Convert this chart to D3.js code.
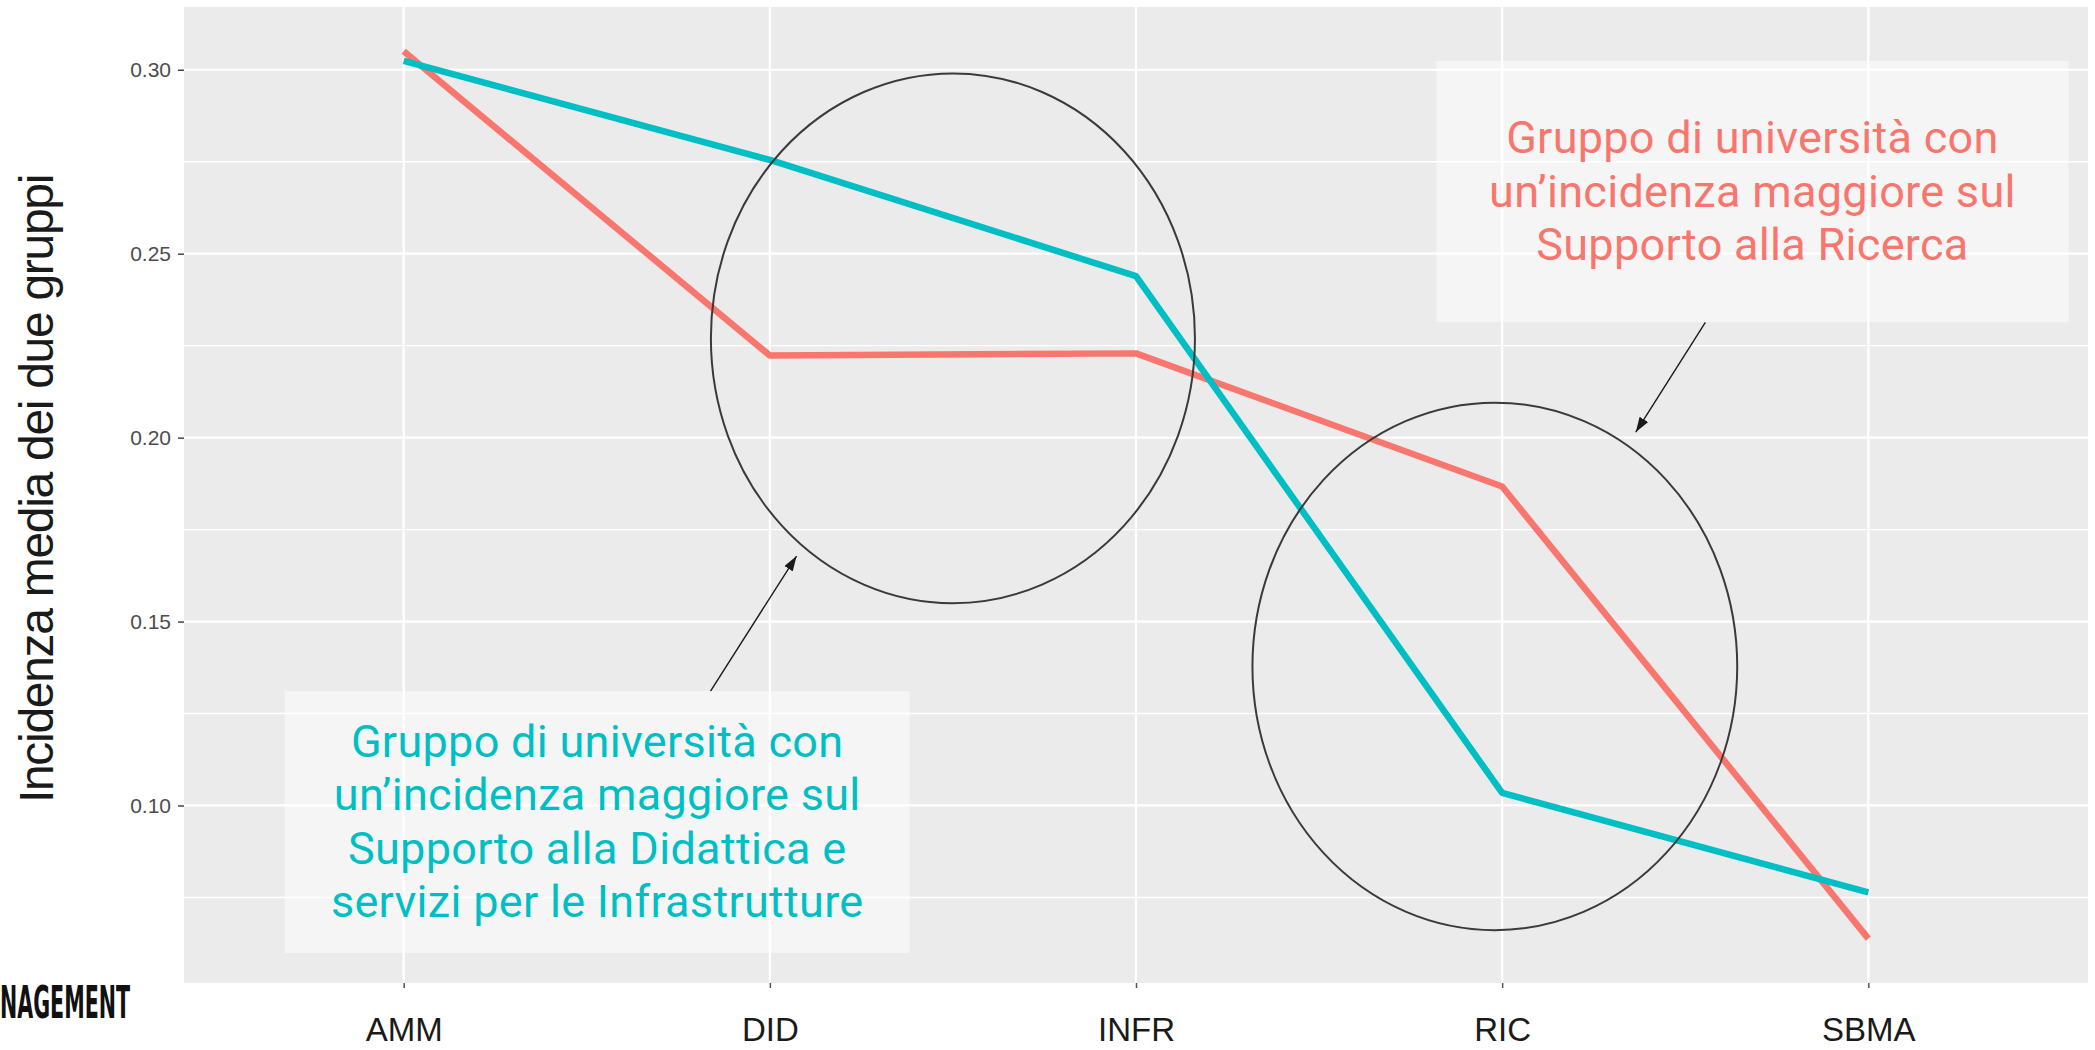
<!DOCTYPE html>
<html>
<head>
<meta charset="utf-8">
<script src="https://cdn.jsdelivr.net/npm/d3@7"></script>
<style>
  html, body { margin: 0; padding: 0; background: #fff; }
  svg { display: block; }
</style>
</head>
<body>
<div id="chart"></div>
<script>
// Categories and the mean incidence of the two groups of universities

const categories = ["AMM", "DID", "INFR", "RIC", "SBMA"];
const ricercaValues = [0.3050, 0.2223, 0.2229, 0.1867, 0.0638];
const didatticaValues = [0.3024, 0.2755, 0.2439, 0.1034, 0.0764];

const yTicks = [0.10, 0.15, 0.20, 0.25, 0.30];
const yMinorTicks = [0.075, 0.125, 0.175, 0.225, 0.275];

const yTitle = "Incidenza media dei due gruppi";
const ricercaLabel = ["Gruppo di università con", "un’incidenza maggiore sul", "Supporto alla Ricerca"];
const didatticaLabel = ["Gruppo di università con", "un’incidenza maggiore sul", "Supporto alla Didattica e", "servizi per le Infrastrutture"];
const logoText = "NAGEMENT";

const drawChart = () => {
  const width = 2095;
  const height = 1050;
  const panel = { left: 184, right: 2088, top: 7, bottom: 983 };
  const red = "#F8766D";
  const teal = "#00BFC4";

  const svg = d3.select("#chart")
                .append("svg")
                .attr("width", width)
                .attr("height", height);

  const xScale = d3.scalePoint()
                   .domain(categories)
                   .range([panel.left, panel.right])
                   .padding(0.6);

  // ggplot style 5% expansion of the data range
  const [lo, hi] = d3.extent(ricercaValues.concat(didatticaValues));
  const pad = (hi - lo) * 0.05;
  const yScale = d3.scaleLinear()
                   .domain([lo - pad, hi + pad])
                   .range([panel.bottom, panel.top]);

  // continuous position in category units, used by the annotations
  const xIdx = d3.scaleLinear()
                 .domain([0, categories.length - 1])
                 .range([xScale(categories[0]), xScale(categories[categories.length - 1])]);

  svg.append("rect")
     .attr("x", panel.left)
     .attr("y", panel.top)
     .attr("width", panel.right - panel.left)
     .attr("height", panel.bottom - panel.top)
     .attr("fill", "#ebebeb");

  const grid = svg.append("g");
  grid.selectAll("line.minor")
      .data(yMinorTicks)
      .join("line")
      .attr("class", "minor")
      .attr("x1", panel.left).attr("x2", panel.right)
      .attr("y1", (d) => yScale(d)).attr("y2", (d) => yScale(d))
      .attr("stroke", "#fff").attr("stroke-width", 1.4);
  grid.selectAll("line.majory")
      .data(yTicks)
      .join("line")
      .attr("class", "majory")
      .attr("x1", panel.left).attr("x2", panel.right)
      .attr("y1", (d) => yScale(d)).attr("y2", (d) => yScale(d))
      .attr("stroke", "#fff").attr("stroke-width", 2.2);
  grid.selectAll("line.majorx")
      .data(categories)
      .join("line")
      .attr("class", "majorx")
      .attr("x1", (d) => xScale(d)).attr("x2", (d) => xScale(d))
      .attr("y1", panel.top).attr("y2", panel.bottom)
      .attr("stroke", "#fff").attr("stroke-width", 2.2);

  // axes
  const yAxis = svg.append("g")
                   .attr("transform", `translate(${panel.left},0)`)
                   .call(d3.axisLeft(yScale).tickValues(yTicks).tickFormat(d3.format(".2f")).tickSize(6).tickPadding(7));
  yAxis.select(".domain").remove();
  yAxis.selectAll(".tick line").attr("stroke", "#444").attr("stroke-width", 1.5);
  yAxis.selectAll(".tick text")
       .attr("fill", "#4d4d4d")
       .style("font-family", "'Liberation Sans', Arial, sans-serif")
       .style("font-size", "21px");

  const xAxis = svg.append("g")
                   .attr("transform", `translate(0,${panel.bottom})`)
                   .call(d3.axisBottom(xScale).tickSize(5).tickPadding(30));
  xAxis.select(".domain").remove();
  xAxis.selectAll(".tick line").attr("stroke", "#555").attr("stroke-width", 1.5);
  xAxis.selectAll(".tick text")
       .attr("fill", "#1a1a1a")
       .style("font-family", "'Liberation Sans', Arial, sans-serif")
       .style("font-size", "33px");

  svg.append("text")
     .attr("transform", "translate(53,489) rotate(-90)")
     .attr("text-anchor", "middle")
     .attr("fill", "#1a1a1a")
     .style("font-family", "'Liberation Sans', Arial, sans-serif")
     .style("font-size", "48px")
     .style("letter-spacing", "-1.3px")
     .text(yTitle);

  // the two lines
  const line = d3.line()
                 .x((d, i) => xScale(categories[i]))
                 .y((d) => yScale(d));

  svg.append("path")
     .datum(ricercaValues)
     .attr("d", line)
     .attr("fill", "none")
     .attr("stroke", red)
     .attr("stroke-width", 6.5)
     .attr("stroke-linejoin", "round");

  svg.append("path")
     .datum(didatticaValues)
     .attr("d", line)
     .attr("fill", "none")
     .attr("stroke", teal)
     .attr("stroke-width", 6.5)
     .attr("stroke-linejoin", "round");

  // annotations, placed in data units
  const ellipses = [
    { cx: 1.5, cy: 0.227, rx: 0.661, ry: 0.072 },
    { cx: 2.98, cy: 0.1378, rx: 0.662, ry: 0.0717 }
  ];
  svg.append("g")
     .selectAll("ellipse")
     .data(ellipses)
     .join("ellipse")
     .attr("cx", (d) => xIdx(d.cx))
     .attr("cy", (d) => yScale(d.cy))
     .attr("rx", (d) => xIdx(d.cx + d.rx) - xIdx(d.cx))
     .attr("ry", (d) => yScale(d.cy - d.ry) - yScale(d.cy))
     .attr("fill", "none")
     .attr("stroke", "#3a3a3a")
     .attr("stroke-width", 2);

  svg.append("defs")
     .append("marker")
     .attr("id", "head")
     .attr("viewBox", "0 0 15 10")
     .attr("refX", 15).attr("refY", 5)
     .attr("markerWidth", 15).attr("markerHeight", 10)
     .attr("markerUnits", "userSpaceOnUse")
     .attr("orient", "auto")
     .append("path")
     .attr("d", "M0,0 L15,5 L0,10 Z")
     .attr("fill", "#1a1a1a");

  const arrows = [
    { x1: 0.838, y1: 0.1311, x2: 1.073, y2: 0.1678 },
    { x1: 3.555, y1: 0.2313, x2: 3.365, y2: 0.2015 }
  ];
  svg.append("g")
     .selectAll("line")
     .data(arrows)
     .join("line")
     .attr("x1", (d) => xIdx(d.x1)).attr("y1", (d) => yScale(d.y1))
     .attr("x2", (d) => xIdx(d.x2)).attr("y2", (d) => yScale(d.y2))
     .attr("stroke", "#1a1a1a")
     .attr("stroke-width", 1.4)
     .attr("marker-end", "url(#head)");

  const boxes = [
    { x0: -0.325, x1: 1.382, y0: 0.1311, y1: 0.0599, lines: didatticaLabel, color: teal },
    { x0: 2.820, x1: 4.547, y0: 0.3024, y1: 0.2314, lines: ricercaLabel, color: red }
  ];
  const lineHeight = 53.3;
  boxes.forEach((b) => {
    const left = xIdx(b.x0), right = xIdx(b.x1);
    const top = yScale(b.y0), bottom = yScale(b.y1);
    svg.append("rect")
       .attr("x", left).attr("y", top)
       .attr("width", right - left).attr("height", bottom - top)
       .attr("fill", "#fff").attr("fill-opacity", 0.5);
    const mid = (top + bottom) / 2;
    const first = mid - (b.lines.length - 1) * lineHeight / 2 + 15;
    svg.append("text")
       .attr("text-anchor", "middle")
       .attr("fill", b.color)
       .style("font-family", "Roboto, sans-serif")
       .style("font-size", "45px")
       .style("letter-spacing", "0.3px")
       .selectAll("tspan")
       .data(b.lines)
       .join("tspan")
       .attr("x", (left + right) / 2)
       .attr("y", (d, i) => first + i * lineHeight)
       .text((d) => d);
  });

  // cropped logo in the bottom left corner
  svg.append("text")
     .attr("x", 0).attr("y", 1018)
     .attr("fill", "#111")
     .attr("textLength", 130)
     .attr("lengthAdjust", "spacingAndGlyphs")
     .style("font-family", "'DejaVu Sans', sans-serif")
     .style("font-weight", "bold")
     .style("font-size", "45px")
     .text(logoText);
}

drawChart();
</script>
</body>
</html>
